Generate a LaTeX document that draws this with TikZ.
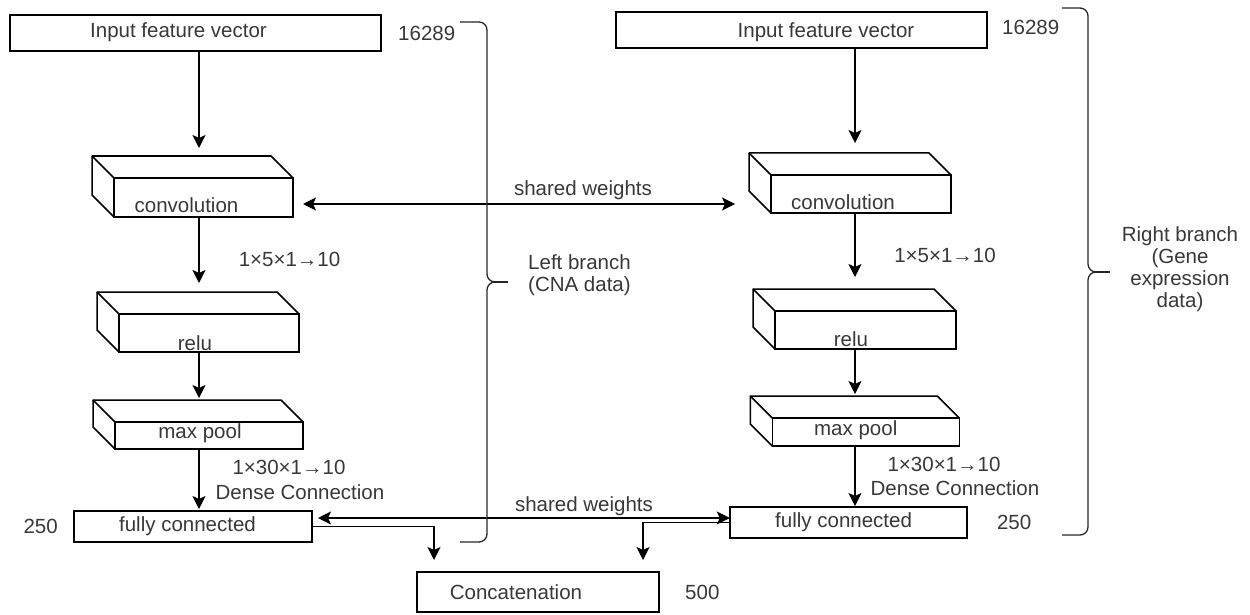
\documentclass[tikz,border=0pt]{standalone}
\usepackage{fontspec}
\setmainfont{Liberation Sans}
\usetikzlibrary{positioning,arrows.meta}

\begin{document}
\begin{tikzpicture}[x=1pt,y=-1pt]
        \tikzstyle{every node}=[font=\fontsize{20.5}{22}\selectfont, text=black!78]
        \tikzstyle{box}=[draw=black, line width=1.5pt, outer sep=0pt, inner sep=0pt]
        \tikzstyle{txt}=[inner sep=0pt]
        \tikzstyle{arr}=[-{Stealth[length=13pt,width=13pt,inset=3pt]}, line width=1.5pt]
        \tikzstyle{both}=[{Stealth[length=13pt,width=13pt,inset=3pt]}-{Stealth[length=13pt,width=13pt,inset=3pt]}, line width=1.5pt]
        \tikzstyle{brace}=[line width=1.3pt, draw=black!85, rounded corners=8pt]

        \useasboundingbox (0,0) rectangle (1250,615);

        % left branch
        \node[box, minimum width=371pt, minimum height=36pt] (inL) at (195.5,33) {};
        \node[txt, xshift=-17pt, yshift=1pt] (inLt) at (inL) {Input feature vector};
        \node[box, minimum width=179pt, minimum height=39pt] (convL) at (203.5,197.5) {};
        \node[txt, xshift=-17pt, yshift=-7.5pt] (convLt) at (convL) {convolution};
        \node[box, minimum width=180pt, minimum height=38pt] (reluL) at (209,333) {};
        \node[txt, xshift=-14pt, yshift=-10pt] (reluLt) at (reluL) {relu};
        \node[box, minimum width=188pt, minimum height=27pt] (poolL) at (209,435.5) {};
        \node[txt, xshift=-9pt, yshift=2.5pt] (poolLt) at (poolL) {max pool};
        \node[box, minimum width=238pt, minimum height=31pt] (fcL) at (193,526.5) {};
        \node[txt, xshift=-5.5pt] (fcLt) at (fcL) {fully connected};

        % right branch
        \node[box, minimum width=371pt, minimum height=36pt] (inR) at (801.5,30) {};
        \node[txt, xshift=24.5pt, yshift=-2pt] (inRt) at (inR) {Input feature vector};
        \node[box, minimum width=180pt, minimum height=38pt] (convR) at (861,194) {};
        \node[txt, xshift=-18pt, yshift=-8pt] (convRt) at (convR) {convolution};
        \node[box, minimum width=181pt, minimum height=38pt] (reluR) at (865.5,330) {};
        \node[txt, xshift=-14.5pt, yshift=-9pt] (reluRt) at (reluR) {relu};
        \node[box, minimum width=187pt, minimum height=28pt] (poolR) at (865.75,432) {};
        \node[txt, xshift=-10pt, yshift=2pt] (poolRt) at (poolR) {max pool};
        \node[box, minimum width=237pt, minimum height=31pt] (fcR) at (848.3,522.5) {};
        \node[txt, xshift=-4.7pt] (fcRt) at (fcR) {fully connected};

        \node[box, minimum width=242pt, minimum height=40pt] (cat) at (538,592) {};
        \node[txt, xshift=-22pt] (catt) at (cat) {Concatenation};

        % back faces of the blocks
        \foreach \c in {convL,reluL,poolL,convR,reluR,poolR} {
            \draw[line width=1.5pt, line join=round] (\c.south west) -- ++(-22,-22) |- ([shift={(-22,-22)}]\c.north east) -- (\c.north east);
            \draw[line width=1.5pt] (\c.north west) -- ++(-22,-22);
            \coordinate (\c-b) at ([yshift=22pt]\c.north);
            \coordinate (\c-w) at ([xshift=-22pt]\c.west);
        }

        \coordinate (colL) at (199,0);
        \coordinate (colR) at (855,0);
        \coordinate (sw1) at (0,204);
        \coordinate (sw2) at (0,518);

        \draw[arr, shorten >=8pt] (inL.south -| colL) -- (convL-b -| colL);
        \draw[arr, shorten >=9pt] (convL.south -| colL) -- (reluL-b -| colL);
        \draw[arr, shorten >=2pt] (reluL.south -| colL) -- (poolL-b -| colL);
        \draw[arr, shorten >=2pt] (poolL.south -| colL) -- (fcL.north -| colL);

        \draw[arr, shorten >=10pt] (inR.south -| colR) -- (convR-b -| colR);
        \draw[arr, shorten >=12pt] (convR.south -| colR) -- (reluR-b -| colR);
        \draw[arr, shorten >=2pt] (reluR.south -| colR) -- (poolR-b -| colR);
        \draw[arr, shorten >=1pt] (poolR.south -| colR) -- (fcR.north -| colR);

        \draw[both, shorten <=10pt, shorten >=14pt] (convL.east |- sw1) -- (convR-w |- sw1);
        \draw[both, shorten <=6pt] (fcL.east |- sw2) -- (fcR.west |- sw2);

        \draw[arr, shorten >=12pt] (fcL.east) -| ([xshift=17pt]cat.north west);
        \draw[arr, shorten >=12pt] (fcR.west) -| ([xshift=-16pt]cat.north east);

        \node[txt] (sharedA) at (583,190) {shared weights};
        \node[txt] (sharedB) at (584,506) {shared weights};

        \node[txt] (kernL) at (289.5,259) {1×5×1→10};
        \node[txt] (kernR) at (945,255) {1×5×1→10};
        \node[txt] (denseL1) at (289,467) {1×30×1→10};
        \node[txt] (denseL2) at (300,492) {Dense Connection};
        \node[txt] (denseR1) at (944,464) {1×30×1→10};
        \node[txt] (denseR2) at (955,488) {Dense Connection};

        \node[txt, right=17pt of inL] (nInL) {16289};
        \node[txt, right=15pt of inR, yshift=3pt] (nInR) {16289};
        \node[txt, left=16pt of fcL] (nFcL) {250};
        \node[txt, right=30pt of fcR] (nFcR) {250};
        \node[txt, right=26pt of cat] (nCat) {500};

        % braces
        \draw[brace] (460,22) -- (487,22) -- (487,282) -- (495,282);
        \draw[brace] (495,282) -- (487,282) -- (487,542) -- (460,542);
        \draw[line width=1.3pt, draw=black!85] (493,282) -- (508,282);
        \node[txt, align=left, anchor=west] (leftB) at (528,275) {Left branch\\(CNA data)};

        \draw[brace] (1062,8) -- (1088,8) -- (1088,272) -- (1096,272);
        \draw[brace] (1096,272) -- (1088,272) -- (1088,535) -- (1062,535);
        \draw[line width=1.3pt, draw=black!85] (1094,272) -- (1110,272);
        \node[txt, align=center] (rightB) at (1180,269) {Right branch\\(Gene\\expression\\data)};

    \end{tikzpicture}
\end{document}
